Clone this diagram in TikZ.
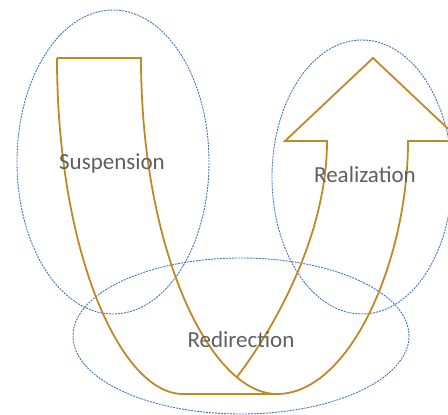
\documentclass[tikz,border=0pt]{standalone}
\usepackage{fontspec}
\setmainfont{Carlito}
\usetikzlibrary{positioning}
\definecolor{zoneblue}{RGB}{68,114,196}
\definecolor{turngold}{RGB}{191,137,38}
\definecolor{labgray}{RGB}{95,95,95}

\begin{document}
\begin{tikzpicture}[x=1pt,y=-1pt,
 zone/.style={draw=zoneblue,line width=0.9pt,dash pattern=on 2pt off 1pt},
 turn/.style={draw=turngold,line width=1.8pt,line join=miter},
 lab/.style={text=labgray,font=\fontsize{23}{23}\selectfont,inner sep=0pt}]
\useasboundingbox (0,0) rectangle (448,415);
\clip (0,0) rectangle (448,415);
% three zones
\draw[zone] (113,162) ellipse (96pt and 152pt);
\draw[zone] (362,177) ellipse (90pt and 137pt);
\draw[zone] (241,336) ellipse (168pt and 78pt);
% u-turn arrow
\coordinate (tailL) at (57,58);
\coordinate (tailR) at (141,58);
\coordinate (bendL) at (183,394);
\coordinate (bendR) at (277,394);
\coordinate (shaftR) at (408,141);
\coordinate (headR) at (461,141);
\coordinate (tip) at (373,58);
\coordinate (headL) at (285,141);
\coordinate (shaftL) at (327,141);
\coordinate (meet) at (237,377);
\draw[turn] (tailL) .. controls (57,250) and (120,394) .. (bendL) -- (bendR);
\draw[turn] (tailL) -- (tailR) .. controls (141,250) and (210,394) .. (bendR)
 .. controls (350,394) and (408,260) .. (shaftR) -- (headR) -- (tip)
 -- (headL) -- (shaftL) .. controls (327,230) and (280,320) .. (meet);
% labels
\node[lab] (susp) at (112,163) {Suspension};
\node[lab] (real) at (365,175) {Realization};
\node[lab] (redi) at (241,340) {Redirection};
\end{tikzpicture}
\end{document}
